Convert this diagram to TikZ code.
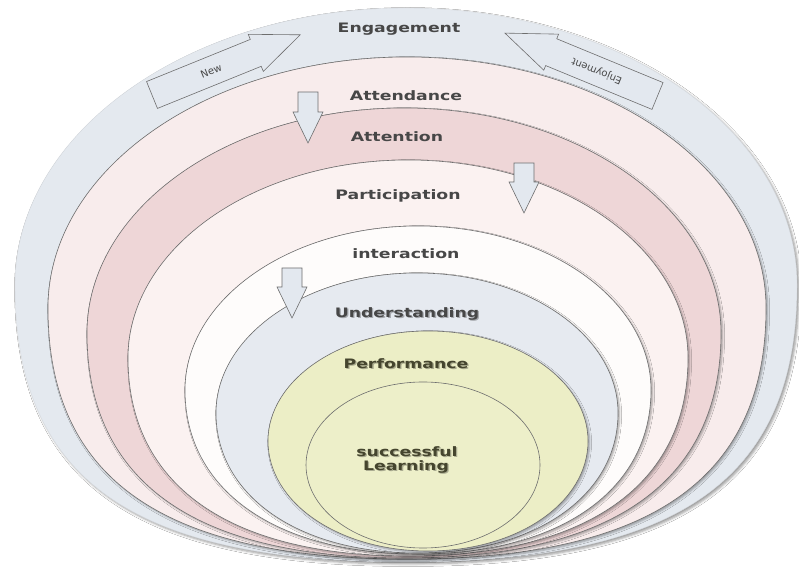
\documentclass[tikz,border=0pt]{standalone}
\usepackage{fontspec}
\setmainfont{DejaVu Sans}
\usepackage{graphicx}
\usetikzlibrary{shadows.blur}
\definecolor{engc}{HTML}{E4E9EF}
\definecolor{attc}{HTML}{F8ECEC}
\definecolor{atnc}{HTML}{EED6D7}
\definecolor{parc}{HTML}{FBF2F1}
\definecolor{intc}{HTML}{FEFCFB}
\definecolor{undc}{HTML}{E6EAF0}
\definecolor{perc}{HTML}{ECEEC6}
\definecolor{sucl}{HTML}{EDEFC9}
\definecolor{linec}{HTML}{6E6E6E}
\definecolor{txtc}{HTML}{474747}
\definecolor{olivetxt}{HTML}{45452E}
\definecolor{arrc}{HTML}{E3E8EF}
\newcommand{\bowl}[6]{% style, cx, cy, rx, ry, k bottom
  \path[#1] ({#2-#4},{#3}) .. controls ({#2-#4},{#3+0.552*#5}) and ({#2-0.552*#4},{#3+#5}) .. ({#2},{#3+#5})
   .. controls ({#2+0.552*#4},{#3+#5}) and ({#2+#4},{#3+0.552*#5}) .. ({#2+#4},{#3})
   .. controls ({#2+#4},{#3-#6*#5}) and ({#2+#6*#4},{#3-#5}) .. ({#2},{#3-#5})
   .. controls ({#2-#6*#4},{#3-#5}) and ({#2-#4},{#3-#6*#5}) .. ({#2-#4},{#3}) -- cycle;}
\newcommand{\blockarrow}[8]{% name, x, y, angle, length, shaft w, head w, head length
  \begin{scope}[shift={(#2,#3)}, rotate=#4]
    \draw[barrow] (0,{-#6/2}) -- ({#5-#8},{-#6/2}) -- ({#5-#8},{-#7/2}) -- (#5,0)
      -- ({#5-#8},{#7/2}) -- ({#5-#8},{#6/2}) -- (0,{#6/2}) -- cycle;
    \coordinate (#1) at (0,0);
    \coordinate (#1-t) at ({(#5-#8)*0.57},0);
  \end{scope}}
\newcommand{\wide}[1]{\scalebox{1.33}[1]{#1}}
\tikzset{
  ring/.style={draw=linec, line width=0.6pt, blur shadow={shadow xshift=1.6pt, shadow yshift=-1.6pt, shadow blur radius=2pt, shadow opacity=35}},
  barrow/.style={draw=linec, line width=0.6pt, fill=arrc},
  lbl/.style={font=\fontsize{13}{14}\selectfont\bfseries, text=txtc, inner sep=0pt, text height=9.5pt, text depth=0pt},
  lblshadow/.style={lbl, text=black, opacity=0.28},
  arrtxt/.style={font=\fontsize{10}{11}\selectfont, text=txtc, inner sep=0pt}
}
\begin{document}
\begin{tikzpicture}[x=1pt,y=1pt]
\fill[white] (0,0) rectangle (799,569);
\useasboundingbox (0,0) rectangle (799,569);
% nested rings, outer to inner
\bowl{fill=engc, draw=engc!85!gray, line width=0.4pt, blur shadow={shadow xshift=2pt, shadow yshift=-2pt, shadow blur radius=2.5pt, shadow opacity=40}}{406}{284}{391}{277}{0.70}
\bowl{ring, fill=attc}{407}{261}{359}{251}{0.68}
\bowl{ring, fill=atnc}{404}{236}{317}{225}{0.66}
\bowl{ring, fill=parc}{408}{211}{280}{198}{0.64}
\bowl{ring, fill=intc}{418}{179}{233}{164}{0.61}
\bowl{ring, fill=undc}{417}{156}{201}{140}{0.59}
\bowl{ring, fill=perc}{428}{128}{160}{110}{0.56}
\bowl{draw=linec, line width=0.6pt, fill=sucl}{423}{104}{117}{83}{0.552}
% block arrows
\blockarrow{new}{152}{474}{22.1}{160}{29}{40}{48}
\blockarrow{enj}{657.5}{473}{157.6}{165}{29}{39}{50}
\blockarrow{d1}{308}{477}{-90}{51}{20}{30}{31}
\blockarrow{d2}{524}{406}{-90}{50}{20}{30}{31}
\blockarrow{d3}{292}{301}{-90}{50}{20}{30}{31}
\node[arrtxt, rotate=22.1] (newlbl) at (new-t) {New};
\node[arrtxt, rotate=157.6] (enjlbl) at (enj-t) {Enjoyment};
% labels
\node[lbl] (eng) at (399,541) {\wide{Engagement}};
\node[lbl] (att) at (406,473) {\wide{Attendance}};
\node[lbl] (atn) at (397,432) {\wide{Attention}};
\node[lbl] (par) at (398,374) {\wide{Participation}};
\node[lbl] (int) at (406,315) {\wide{interaction}};
\node[lblshadow] (unds) at (408.3,254.8) {\wide{Understanding}};
\node[lbl] (und) at (407,256) {\wide{Understanding}};
\node[lblshadow] (pers) at (407.3,203.8) {\wide{Performance}};
\node[lbl, text=olivetxt] (per) at (406,205) {\wide{Performance}};
\node[lblshadow] (sucs) at (408.3,115.8) {\wide{successful}};
\node[lbl, text=olivetxt] (suc) at (407,117) {\wide{successful}};
\node[lblshadow] (lrns) at (407.3,101.8) {\wide{Learning}};
\node[lbl, text=olivetxt] (lrn) at (406,103) {\wide{Learning}};
\end{tikzpicture}
\end{document}
